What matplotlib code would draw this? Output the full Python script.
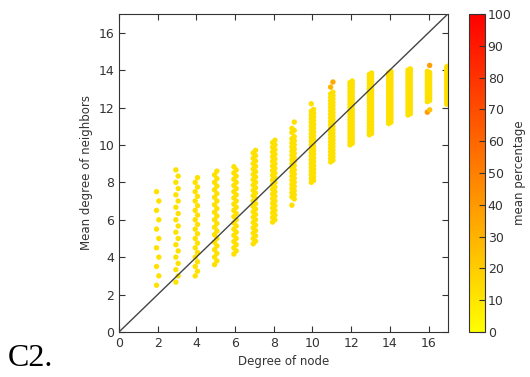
import numpy as np
import matplotlib
matplotlib.use("Agg")
import matplotlib.pyplot as plt

# suma de grados de los vecinos, por grado del nodo
deg2_sum = [5, 6, 7, 8, 9, 10, 11, 12, 13, 14, 15]
deg3_sum = [8, 9, 10, 11, 12, 13, 14, 15, 16, 17, 18, 19, 20, 21, 22, 23, 24, 25, 26]
deg4_sum = [12, 13, 14, 15, 16, 17, 18, 19, 20, 21, 22, 23, 24, 25, 26, 27, 28, 29, 30, 31, 32, 33]
deg5_sum = [18, 19, 20, 21, 22, 23, 24, 25, 26, 27, 28, 29, 30, 31, 32, 33, 34, 35, 36, 37, 38,
            39, 40, 41, 42, 43]
deg6_sum = [25, 26, 27, 28, 29, 30, 31, 32, 33, 34, 35, 36, 37, 38, 39, 40, 41, 42, 43, 44, 45,
            46, 47, 48, 49, 50, 51, 52, 53]
deg7_sum = [33, 34, 35, 36, 37, 38, 39, 40, 41, 42, 43, 44, 45, 46, 47, 48, 49, 50, 51, 52, 53,
            54, 55, 56, 57, 58, 59, 60, 61, 62, 63, 64, 65, 66, 67, 68]
deg8_sum = [47, 48, 49, 50, 51, 52, 53, 54, 55, 56, 57, 58, 59, 60, 61, 62, 63, 64, 65, 66, 67,
            68, 69, 70, 71, 72, 73, 74, 75, 76, 77, 78, 79, 80, 81, 82]
deg9_sum = [61, 64, 65, 66, 67, 68, 69, 70, 71, 72, 73, 74, 75, 76, 77, 78, 79, 80, 81, 82, 83,
            84, 85, 86, 87, 88, 89, 90, 91, 92, 93, 94, 96, 97, 98, 101]
deg10_sum = [80, 81, 82, 83, 84, 85, 86, 87, 88, 89, 90, 91, 92, 93, 94, 95, 96, 97, 98, 99, 100,
             101, 102, 103, 104, 105, 106, 107, 108, 109, 110, 111, 112, 113, 114, 115, 116, 117,
             118, 119, 122]
deg11_sum = [100, 101, 102, 103, 104, 105, 106, 107, 108, 109, 110, 111, 112, 113, 114, 115, 116,
             117, 118, 119, 120, 121, 122, 123, 124, 125, 126, 127, 128, 129, 130, 131, 132, 133,
             134, 135, 136, 137, 138, 139, 140, 141, 144, 147]
deg12_sum = [120, 121, 122, 123, 124, 125, 126, 127, 128, 129, 130, 131, 132, 133, 134, 135, 136,
             137, 138, 139, 140, 141, 142, 143, 144, 145, 146, 147, 148, 149, 150, 151, 152, 153,
             154, 155, 156, 157, 158, 159, 160, 161]
deg13_sum = [137, 138, 139, 140, 141, 142, 143, 144, 145, 146, 147, 148, 149, 150, 151, 152, 153,
             154, 155, 156, 157, 158, 159, 160, 161, 162, 163, 164, 165, 166, 167, 168, 169, 170,
             171, 172, 173, 174, 175, 176, 177, 178, 179, 180]
deg14_sum = [156, 157, 158, 159, 160, 161, 162, 163, 164, 165, 166, 167, 168, 169, 170, 171, 172,
             173, 174, 175, 176, 177, 178, 179, 180, 181, 182, 183, 184, 185, 186, 187, 188, 189,
             190, 191, 192, 193, 194, 195]
deg15_sum = [174, 175, 176, 177, 178, 179, 180, 181, 182, 183, 184, 185, 186, 187, 188, 189, 190,
             191, 192, 193, 194, 195, 196, 197, 198, 199, 200, 201, 202, 203, 204, 205, 206, 207,
             208, 209, 210, 211]
deg16_sum = [188, 190, 197, 198, 199, 200, 201, 202, 203, 204, 205, 206, 207, 208, 209, 210, 211,
             212, 213, 214, 215, 216, 217, 218, 219, 220, 221, 222, 223, 228]
deg17_sum = [207, 208, 209, 210, 211, 212, 213, 214, 215, 216, 217, 218, 219, 220, 221, 222, 223,
             224, 225, 226, 227, 228, 229, 230, 231, 232, 233, 234, 235, 236, 237, 238, 239, 240,
             241, 242]

degrees = [2, 3, 4, 5, 6, 7, 8, 9, 10, 11, 12, 13, 14, 15, 16, 17]
sums = [deg2_sum, deg3_sum, deg4_sum, deg5_sum, deg6_sum, deg7_sum, deg8_sum, deg9_sum,
        deg10_sum, deg11_sum, deg12_sum, deg13_sum, deg14_sum, deg15_sum, deg16_sum, deg17_sum]

# porcentaje medio: valor base y puntos que salen naranjas
base_pct = 12
outlier_deg = [11, 11, 16, 16, 16]
outlier_sum = [144, 147, 188, 190, 228]
outlier_pct = [30, 34, 40, 24, 38]

xs, ys, cs = [], [], []
for k, s in zip(degrees, sums):
    for i, v in enumerate(s):
        xs.append(k + (0.06 if i % 2 else -0.06))
        ys.append(v / k)
        pct = base_pct
        for d, sv, p in zip(outlier_deg, outlier_sum, outlier_pct):
            if d == k and sv == v:
                pct = p
        cs.append(pct)

fig = plt.figure(figsize=(5.3, 3.77), dpi=100)
ax = fig.add_axes([0.2245, 0.1194, 0.6205, 0.8435])
cax = fig.add_axes([0.885, 0.1194, 0.030, 0.8435])

sc = ax.scatter(xs, ys, c=cs, cmap="autumn_r", vmin=0, vmax=100, s=15, linewidths=0, zorder=2)
ax.plot([0, 17], [0, 17], color="#444444", linewidth=1.0, zorder=3)

ax.set_xlim(0, 17)
ax.set_ylim(0, 17)
ax.set_xticks(range(0, 17, 2))
ax.set_yticks(range(0, 17, 2))
ax.tick_params(direction="in", top=True, right=True, labelsize=9, length=4, colors="#333333")
for sp in ax.spines.values():
    sp.set_color("#333333")
ax.set_xlabel("Degree of node", fontsize=8.5, color="#333333")
ax.set_ylabel("Mean degree of neighbors", fontsize=8.5, color="#333333")

cb = fig.colorbar(sc, cax=cax, ticks=range(0, 101, 10))
cb.ax.tick_params(labelsize=9, direction="in", length=4, colors="#333333", pad=2)
cb.set_label("mean percentage", fontsize=8.5, color="#333333", labelpad=1)
cb.outline.set_edgecolor("#333333")

fig.text(0.015, 0.03, "C2.", fontsize=23, family="Liberation Serif", color="black")

plt.savefig("out.png", dpi=100)
plt.close()
